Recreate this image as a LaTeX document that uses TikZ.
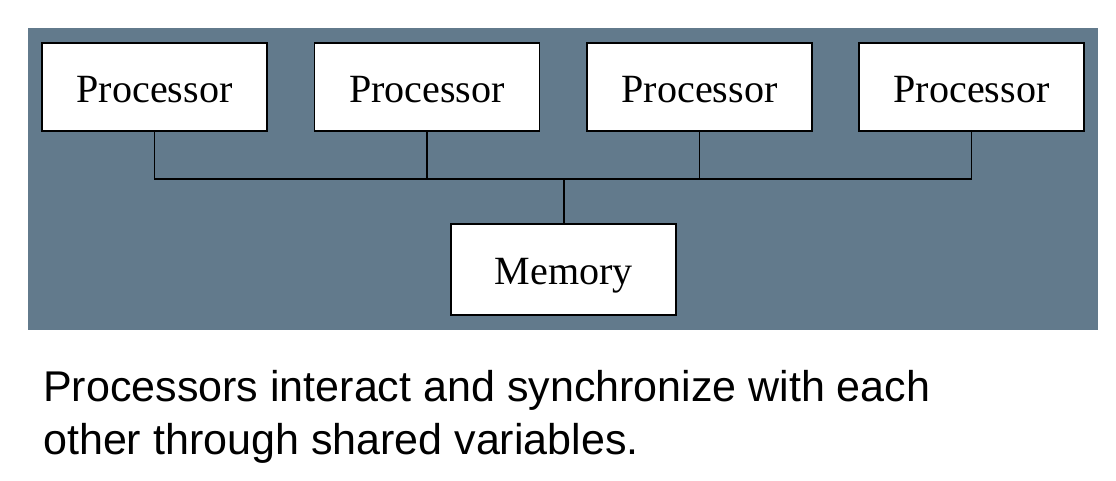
\documentclass[tikz,border=0pt]{standalone}
\usepackage{fontspec}
\setmainfont{Liberation Serif}
\newfontfamily\capfont{Liberation Sans}
\usepackage{xcolor}
\usetikzlibrary{positioning}
\usetikzlibrary{calc}

\definecolor{panelgray}{RGB}{98,122,140}

\begin{document}
\begin{tikzpicture}[
    unit/.style={draw=black, fill=white, line width=1.4pt, minimum width=5.625cm, minimum height=2.2cm, inner sep=0pt, text height=21.6pt, text depth=0pt, font=\fontsize{28.5}{34}\selectfont},
    wire/.style={line width=1.4pt, black}
    ]
    \useasboundingbox (0,0) rectangle (27.9,12) ;
    \fill[panelgray] (0.7,3.75) rectangle (27.45,11.3) ;
    \node[unit] (p1) at (3.8625, 9.825) {Processor} ;
    \node[unit] (p2) at (10.675, 9.825) {Processor} ;
    \node[unit] (p3) at (17.4875, 9.825) {Processor} ;
    \node[unit] (p4) at (24.2875, 9.825) {Processor} ;
    \node[unit, minimum height=2.275cm] (mem) at (14.09, 5.2625) {Memory} ;
    \coordinate (bus) at (0, 7.525) ;
    \draw[wire] (p1.south) |- (p4.south |- bus) -- (p4.south) ;
    \draw[wire] (p2.south) -- (p2.south |- bus) ;
    \draw[wire] (p3.south) -- (p3.south |- bus) ;
    \draw[wire] (mem.north) -- (mem.north |- bus) ;
    \node[anchor=north west, inner sep=0pt, align=left, font=\capfont\fontsize{30.6}{37.6}\selectfont] (note) at (1.075, 2.75) {Processors interact and synchronize with each\\other through shared variables.} ;
    
\end{tikzpicture}
\end{document}
